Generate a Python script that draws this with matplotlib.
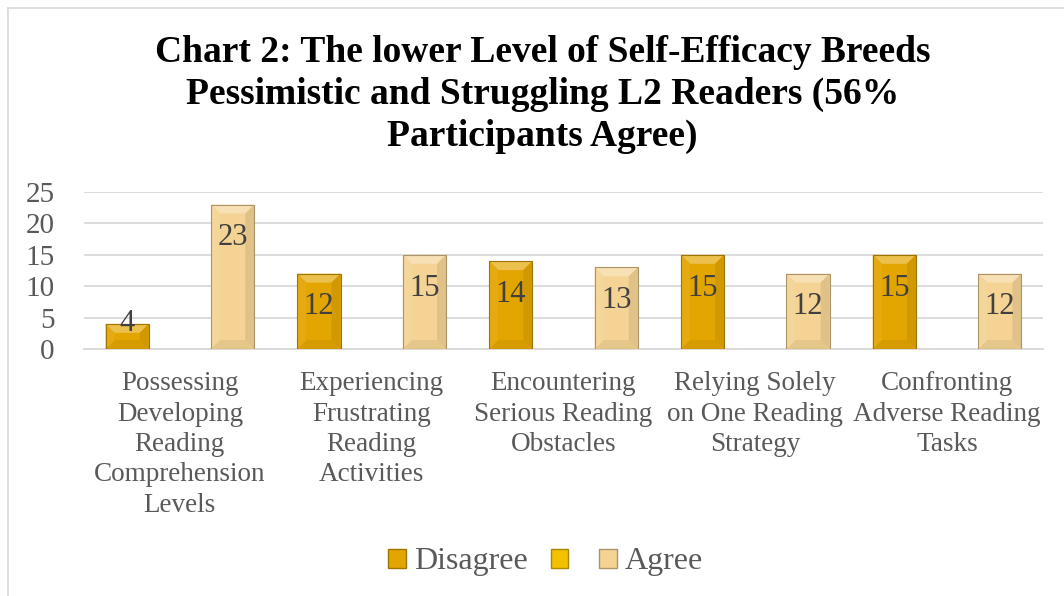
import numpy as np
import matplotlib.pyplot as plt
from matplotlib.patches import Polygon, Patch
from matplotlib.colors import to_rgb

categories = ["Possessing\nDeveloping\nReading\nComprehension\nLevels",
              "Experiencing\nFrustrating\nReading\nActivities",
              "Encountering\nSerious Reading\nObstacles",
              "Relying Solely\non One Reading\nStrategy",
              "Confronting\nAdverse Reading\nTasks"]
disagree = [4, 12, 14, 15, 15]
blank = [0, 0, 0, 0, 0]
agree = [23, 15, 13, 12, 12]

c_dis = "#E3A500"
c_blank = "#F2C200"
c_agr = "#F4D394"
grey = "#595959"

plt.rcParams['font.family'] = ['Liberation Serif', 'DejaVu Serif']

fig = plt.figure(figsize=(10.64, 5.96), dpi=100)
ax = fig.add_axes([84/1064, 1 - 349/596, 959/1064, 157/596])

x = np.arange(len(categories))
w = 0.225
off = 0.275
b1 = ax.bar(x - off, disagree, w, color=c_dis, zorder=3)
b2 = ax.bar(x, blank, w, color=c_blank, zorder=3)
b3 = ax.bar(x + off, agree, w, color=c_agr, zorder=3)

ax.set_xlim(-0.5, len(categories) - 0.5)
ax.set_ylim(0, 25)
ax.set_yticks(range(0, 26, 5))
ax.yaxis.grid(True, color="#D9D9D9", linewidth=1.3, zorder=0)
ax.set_axisbelow(True)
for s in ["top", "right", "left"]:
    ax.spines[s].set_visible(False)
ax.spines["bottom"].set_color("#D9D9D9")
ax.spines["bottom"].set_linewidth(1.3)
ax.tick_params(axis="y", length=0, labelsize=21, labelcolor=grey, pad=21)
ax.tick_params(axis="x", length=0, labelsize=19.5, labelcolor=grey, pad=16)
ax.set_xticks(x)
ax.set_xticklabels(categories, linespacing=1.28, va="top")


def shade(c, f):
    r = np.array(to_rgb(c))
    if f > 0:
        return tuple(r + (1 - r) * f)
    return tuple(r * (1 + f))


# bevel look like the Excel bars, built from the bar patches themselves
fig.canvas.draw()
inv = ax.transData.inverted()
for bars, col in [(b1, c_dis), (b3, c_agr)]:
    for rect in bars:
        if rect.get_height() <= 0:
            continue
        (x0, y0), (x1, y1) = ax.transData.transform(
            [(rect.get_x(), rect.get_y()),
             (rect.get_x() + rect.get_width(), rect.get_y() + rect.get_height())])
        d = min(9, (y1 - y0) / 2.5)
        top = [(x0, y1), (x1, y1), (x1 - d, y1 - d), (x0 + d, y1 - d)]
        bot = [(x0, y0), (x1, y0), (x1 - d, y0 + d), (x0 + d, y0 + d)]
        lft = [(x0, y0), (x0, y1), (x0 + d, y1 - d), (x0 + d, y0 + d)]
        rgt = [(x1, y0), (x1, y1), (x1 - d, y1 - d), (x1 - d, y0 + d)]
        for pts, f in [(top, 0.3), (bot, -0.06), (lft, 0.06), (rgt, -0.08)]:
            ax.add_patch(Polygon(inv.transform(pts), closed=True,
                                 color=shade(col, f), lw=0, zorder=4))
        ax.add_patch(Polygon(inv.transform([(x0, y0), (x0, y1), (x1, y1), (x1, y0)]),
                             closed=True, fill=False, ec=shade(col, -0.3),
                             lw=0.8, zorder=5))

for bars, vals in [(b1, disagree), (b3, agree)]:
    for rect, v in zip(bars, vals):
        cx = rect.get_x() + rect.get_width() / 2
        dy = 0 if v < 6 else -24
        ax.annotate(str(v), (cx, v), xytext=(0, dy), textcoords="offset points",
                    ha="center", va="center", fontsize=22, color="#404040",
                    zorder=6)

fig.text(0.51, 1 - 35/596,
         "Chart 2: The lower Level of Self-Efficacy Breeds\n"
         "Pessimistic and Struggling L2 Readers (56%\n"
         "Participants Agree)",
         ha="center", va="top", fontsize=27, fontweight="bold",
         color="black", linespacing=1.26)

handles = [Patch(facecolor=c_dis, edgecolor=shade(c_dis, -0.3)),
           Patch(facecolor=c_blank, edgecolor=shade(c_blank, -0.3)),
           Patch(facecolor=c_agr, edgecolor=shade(c_agr, -0.3))]
fig.legend(handles, ["Disagree", "", "Agree"], loc="center",
           bbox_to_anchor=(0.513, 1 - 562/596), ncol=3, frameon=False,
           fontsize=23, labelcolor=grey, handlelength=0.55, handleheight=0.55,
           handletextpad=0.25, columnspacing=0.72)

# thin frame lines of the chart area
fig.add_artist(plt.Line2D([8/1064, 8/1064], [0, 1 - 8/596], color="#D9D9D9", lw=1.2))
fig.add_artist(plt.Line2D([8/1064, 1], [1 - 8/596, 1 - 8/596], color="#D9D9D9", lw=1.2))

fig.savefig("out.png", dpi=100)
